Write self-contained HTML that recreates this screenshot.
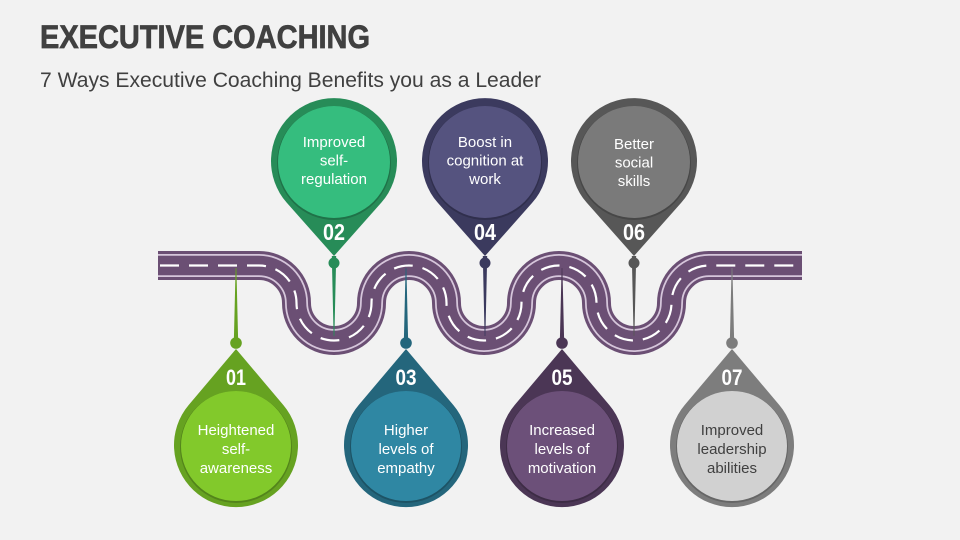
<!DOCTYPE html>
<html><head><meta charset="utf-8"><style>
html,body{margin:0;padding:0;background:#f2f2f2;}
svg{display:block;}
text{font-family:"Liberation Sans",Arial,sans-serif;}
</style></head><body>
<svg width="960" height="540" viewBox="0 0 960 540" xmlns="http://www.w3.org/2000/svg">
<rect width="960" height="540" fill="#f2f2f2"/>
<text x="40" y="48" font-size="32" font-weight="bold" fill="#404040" stroke="#404040" stroke-width="0.7" textLength="330" lengthAdjust="spacingAndGlyphs">EXECUTIVE COACHING</text>
<text x="40" y="87" font-size="21" fill="#404040" textLength="501" lengthAdjust="spacingAndGlyphs">7 Ways Executive Coaching Benefits you as a Leader</text>

<g fill="none" stroke-linecap="butt">
<path d="M158,265.5 H259 A37.5,37.5 0 0 1 296.5,303 A37.5,37.5 0 0 0 371.5,303 A37.5,37.5 0 0 1 446.5,303 A37.5,37.5 0 0 0 521.5,303 A37.5,37.5 0 0 1 596.5,303 A37.5,37.5 0 0 0 671.5,303 A37.5,37.5 0 0 1 709,265.5 H802" stroke="#6b4f74" stroke-width="29"/>
<path d="M158,265.5 H259 A37.5,37.5 0 0 1 296.5,303 A37.5,37.5 0 0 0 371.5,303 A37.5,37.5 0 0 1 446.5,303 A37.5,37.5 0 0 0 521.5,303 A37.5,37.5 0 0 1 596.5,303 A37.5,37.5 0 0 0 671.5,303 A37.5,37.5 0 0 1 709,265.5 H802" stroke="#d6c6db" stroke-width="23"/>
<path d="M158,265.5 H259 A37.5,37.5 0 0 1 296.5,303 A37.5,37.5 0 0 0 371.5,303 A37.5,37.5 0 0 1 446.5,303 A37.5,37.5 0 0 0 521.5,303 A37.5,37.5 0 0 1 596.5,303 A37.5,37.5 0 0 0 671.5,303 A37.5,37.5 0 0 1 709,265.5 H802" stroke="#6b4f74" stroke-width="19.5"/>
<path d="M160,265.5 H259 A37.5,37.5 0 0 1 296.5,303 A37.5,37.5 0 0 0 371.5,303 A37.5,37.5 0 0 1 446.5,303 A37.5,37.5 0 0 0 521.5,303 A37.5,37.5 0 0 1 596.5,303 A37.5,37.5 0 0 0 671.5,303 A37.5,37.5 0 0 1 709,265.5 H802" stroke="#ffffff" stroke-width="2.2" stroke-dasharray="19 10"/>
</g>

<!-- needles -->
<g>
<polygon points="233.8,343 238.2,343 236.4,268 235.6,268" fill="#66a221"/>
<circle cx="236" cy="343" r="5.8" fill="#66a221"/>
<polygon points="403.8,343 408.2,343 406.4,268 405.6,268" fill="#24667c"/>
<circle cx="406" cy="343" r="5.8" fill="#24667c"/>
<polygon points="559.8,343 564.2,343 562.4,268 561.6,268" fill="#4b3655"/>
<circle cx="562" cy="343" r="5.8" fill="#4b3655"/>
<polygon points="729.8,343 734.2,343 732.4,268 731.6,268" fill="#7d7d7d"/>
<circle cx="732" cy="343" r="5.8" fill="#7d7d7d"/>

<polygon points="331.8,256 336.2,256 334.4,336 333.6,336" fill="#278c58"/>
<circle cx="334" cy="263" r="5.5" fill="#278c58"/>
<polygon points="482.8,256 487.2,256 485.4,336 484.6,336" fill="#3b3a5e"/>
<circle cx="485" cy="263" r="5.5" fill="#3b3a5e"/>
<polygon points="631.8,256 636.2,256 634.4,336 633.6,336" fill="#575757"/>
<circle cx="634" cy="263" r="5.5" fill="#575757"/>
</g>

<!-- bottom pins -->
<g>
<path d="M236,349 L188.7,405 A62,62 0 1 0 283.3,405 Z" fill="#66a221"/>
<circle cx="236" cy="447" r="56" fill="#000" opacity="0.18"/>
<circle cx="236" cy="446" r="55" fill="#82c92b"/>
<text x="236" y="385" font-size="22" font-weight="bold" fill="#fff" text-anchor="middle" textLength="20" lengthAdjust="spacingAndGlyphs">01</text>
<g font-size="15" fill="#fff" text-anchor="middle">
<text x="236" y="435">Heightened</text><text x="236" y="454">self-</text><text x="236" y="473">awareness</text></g>

<path d="M406,349 L358.7,405 A62,62 0 1 0 453.3,405 Z" fill="#24667c"/>
<circle cx="406" cy="447" r="56" fill="#000" opacity="0.18"/>
<circle cx="406" cy="446" r="55" fill="#2f87a3"/>
<text x="406" y="385" font-size="22" font-weight="bold" fill="#fff" text-anchor="middle" textLength="21" lengthAdjust="spacingAndGlyphs">03</text>
<g font-size="15" fill="#fff" text-anchor="middle">
<text x="406" y="435">Higher</text><text x="406" y="454">levels of</text><text x="406" y="473">empathy</text></g>

<path d="M562,349 L514.7,405 A62,62 0 1 0 609.3,405 Z" fill="#4b3655"/>
<circle cx="562" cy="447" r="56" fill="#000" opacity="0.18"/>
<circle cx="562" cy="446" r="55" fill="#6c5079"/>
<text x="562" y="385" font-size="22" font-weight="bold" fill="#fff" text-anchor="middle" textLength="21" lengthAdjust="spacingAndGlyphs">05</text>
<g font-size="15" fill="#fff" text-anchor="middle">
<text x="562" y="435">Increased</text><text x="562" y="454">levels of</text><text x="562" y="473">motivation</text></g>

<path d="M732,349 L684.7,405 A62,62 0 1 0 779.3,405 Z" fill="#7d7d7d"/>
<circle cx="732" cy="447" r="56" fill="#000" opacity="0.18"/>
<circle cx="732" cy="446" r="55" fill="#d1d1d1"/>
<text x="732" y="385" font-size="22" font-weight="bold" fill="#fff" text-anchor="middle" textLength="21" lengthAdjust="spacingAndGlyphs">07</text>
<g font-size="15" fill="#404040" text-anchor="middle">
<text x="732" y="435">Improved</text><text x="732" y="454">leadership</text><text x="732" y="473">abilities</text></g>
</g>

<!-- top pins -->
<g>
<path d="M334,256 L286.8,202.8 A63,63 0 1 1 381.2,202.8 Z" fill="#278c58"/>
<circle cx="334" cy="163" r="57" fill="#000" opacity="0.18"/>
<circle cx="334" cy="162" r="56" fill="#35bd7e"/>
<text x="334" y="240" font-size="23" font-weight="bold" fill="#fff" text-anchor="middle" textLength="22" lengthAdjust="spacingAndGlyphs">02</text>
<g font-size="15" fill="#fff" text-anchor="middle">
<text x="334" y="147">Improved</text><text x="334" y="165.5">self-</text><text x="334" y="184">regulation</text></g>

<path d="M485,256 L437.8,202.8 A63,63 0 1 1 532.2,202.8 Z" fill="#3b3a5e"/>
<circle cx="485" cy="163" r="57" fill="#000" opacity="0.18"/>
<circle cx="485" cy="162" r="56" fill="#55537f"/>
<text x="485" y="240" font-size="23" font-weight="bold" fill="#fff" text-anchor="middle" textLength="22" lengthAdjust="spacingAndGlyphs">04</text>
<g font-size="15" fill="#fff" text-anchor="middle">
<text x="485" y="147">Boost in</text><text x="485" y="165.5">cognition at</text><text x="485" y="184">work</text></g>

<path d="M634,256 L586.8,202.8 A63,63 0 1 1 681.2,202.8 Z" fill="#575757"/>
<circle cx="634" cy="163" r="57" fill="#000" opacity="0.18"/>
<circle cx="634" cy="162" r="56" fill="#7a7a7a"/>
<text x="634" y="240" font-size="23" font-weight="bold" fill="#fff" text-anchor="middle" textLength="22" lengthAdjust="spacingAndGlyphs">06</text>
<g font-size="15" fill="#fff" text-anchor="middle">
<text x="634" y="149">Better</text><text x="634" y="167.5">social</text><text x="634" y="186">skills</text></g>
</g>
</svg>
</body></html>
